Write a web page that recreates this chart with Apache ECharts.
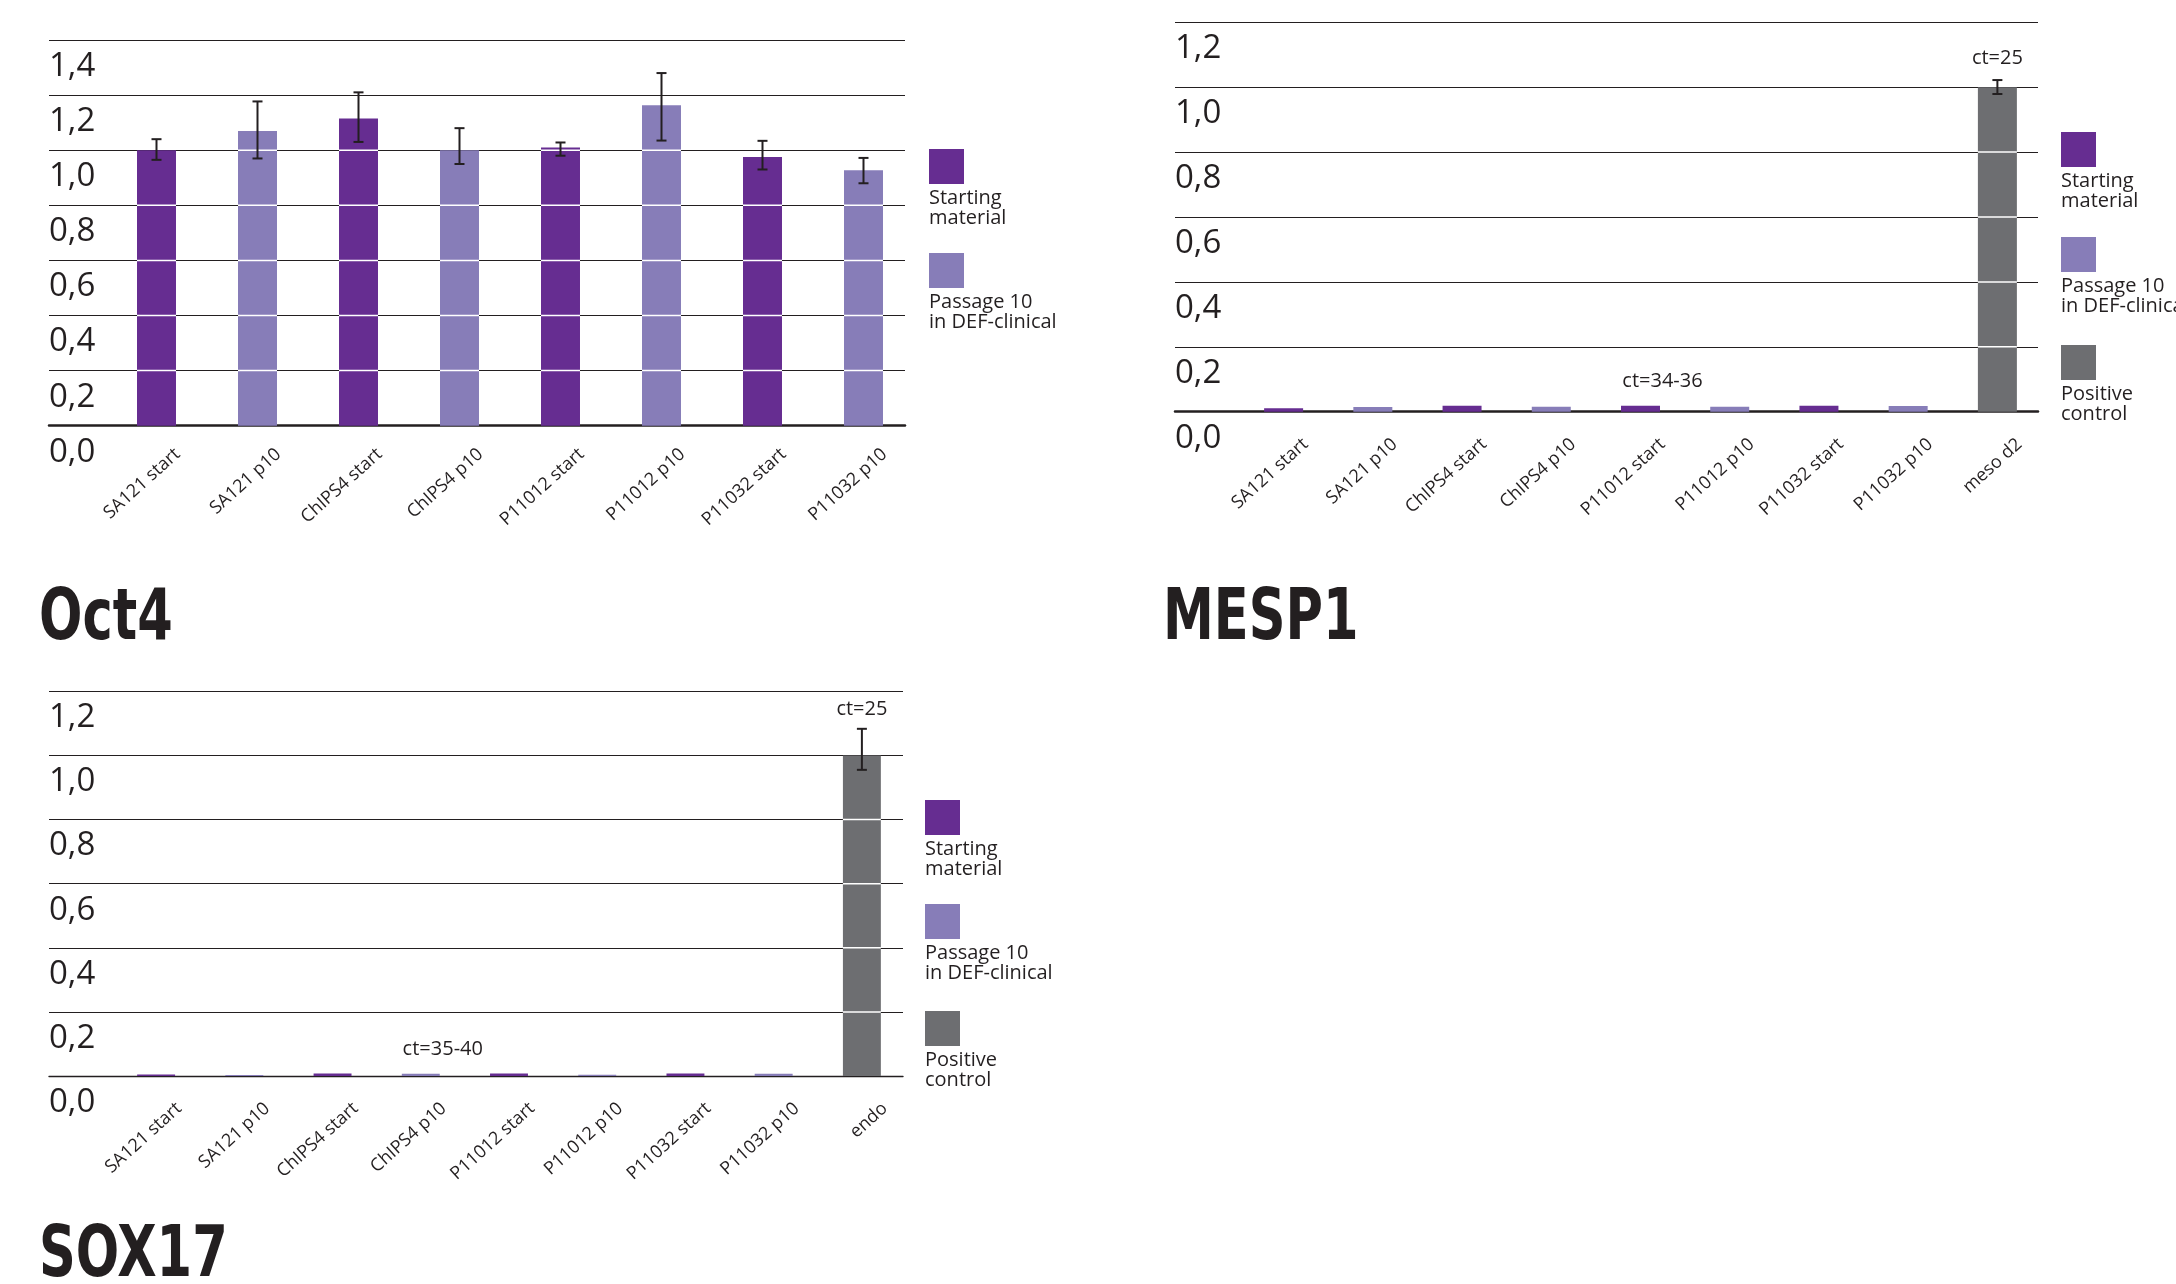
<!DOCTYPE html>
<html>
<head>
<meta charset="utf-8">
<title>Oct4 / MESP1 / SOX17</title>
<script src="https://cdn.jsdelivr.net/npm/echarts@6/dist/echarts.min.js"></script>
<style>
  html, body { margin: 0; padding: 0; background: #fff; }
  #chart { width: 2176px; height: 1284px; }
</style>
</head>
<body>
<div id="chart"></div>
<script>
// categories
const cellLines = ['SA121 start', 'SA121 p10', 'ChIPS4 start', 'ChIPS4 p10', 'P11012 start', 'P11012 p10', 'P11032 start', 'P11032 p10'];
const mesp1Categories = cellLines.concat(['meso d2']);
const sox17Categories = cellLines.concat(['endo']);

// group of each bar: 0 = starting material, 1 = passage 10, 2 = positive control
const oct4Groups = [0, 1, 0, 1, 0, 1, 0, 1];
const mesp1Groups = [0, 1, 0, 1, 0, 1, 0, 1, 2];
const sox17Groups = [0, 1, 0, 1, 0, 1, 0, 1, 2];

// relative expression
const oct4Values = [1.00, 1.07, 1.115, 1.00, 1.01, 1.163, 0.975, 0.927];
const oct4Low = [0.965, 0.97, 1.03, 0.95, 0.98, 1.035, 0.93, 0.88];
const oct4High = [1.04, 1.177, 1.21, 1.08, 1.028, 1.28, 1.034, 0.972];

const mesp1Values = [0.011, 0.0145, 0.0185, 0.015, 0.0185, 0.015, 0.0185, 0.0175, 1.0];
const mesp1Low = [null, null, null, null, null, null, null, null, 0.979];
const mesp1High = [null, null, null, null, null, null, null, null, 1.022];

const sox17Values = [0.005, 0.003, 0.008, 0.007, 0.008, 0.004, 0.008, 0.007, 1.0];
const sox17Low = [null, null, null, null, null, null, null, null, 0.955];
const sox17High = [null, null, null, null, null, null, null, null, 1.083];

// ct annotations: [category index, text]
const oct4Notes = [];
const mesp1Notes = [[4, 'ct=34-36'], [8, 'ct=25']];
const sox17Notes = [[3, 'ct=35-40'], [8, 'ct=25']];

// y axis ranges
const oct4Max = 1.4;
const mesp1Max = 1.2;
const sox17Max = 1.2;
const yStep = 0.2;

const legendNames = ['Starting\nmaterial', 'Passage 10\nin DEF-clinical', 'Positive\ncontrol'];
const panelTitles = ['Oct4', 'MESP1', 'SOX17'];

const groupColors = ['#662d91', '#877db8', '#6d6e71'];
const ink = '#231f20';
const bodyFont = "'Open Sans', 'Noto Sans', sans-serif";
const titleFont = "'Liberation Sans Narrow', 'DejaVu Sans Condensed', sans-serif";

// panel geometry (pixels)
const panels = [
  { cats: cellLines, groups: oct4Groups, values: oct4Values, low: oct4Low, high: oct4High, notes: oct4Notes, max: oct4Max,
    top: 40, base: 425.7, lineLeft: 49, lineRight: 905, barLeft: 106, barRight: 914, barRatio: 0.386,
    labelDx: 21, labelMargin: 26, baseWidth: 2.5, legendX: 929, legendY: [149, 253], titleX: 39, titleY: 585, legendCount: 2 },
  { cats: mesp1Categories, groups: mesp1Groups, values: mesp1Values, low: mesp1Low, high: mesp1High, notes: mesp1Notes, max: mesp1Max,
    top: 22.3, base: 411.7, lineLeft: 1175, lineRight: 2038, barLeft: 1239, barRight: 2042, barRatio: 0.437,
    labelDx: 22, labelMargin: 30, baseWidth: 2.5, legendX: 2061, legendY: [132, 237, 345], titleX: 1163, titleY: 585, legendCount: 3 },
  { cats: sox17Categories, groups: sox17Groups, values: sox17Values, low: sox17Low, high: sox17High, notes: sox17Notes, max: sox17Max,
    top: 691.3, base: 1076, lineLeft: 49, lineRight: 903, barLeft: 112, barRight: 906, barRatio: 0.43,
    labelDx: 23, labelMargin: 30, baseWidth: 1.4, legendX: 925, legendY: [800, 904, 1011], titleX: 39, titleY: 1222, legendCount: 3 }
];

const fmt = v => v.toFixed(1).replace('.', ',');

const grid = [], xAxis = [], yAxis = [], series = [], graphic = [];

panels.forEach((p, k) => {
  const h = p.base - p.top;
  const a = 3 * k, b = 3 * k + 1, c = 3 * k + 2;

  // grid with the horizontal lines and the y labels
  grid.push({ left: p.lineLeft, top: p.top, width: p.lineRight - p.lineLeft, height: h, outerBoundsMode: 'none' });
  // grid with the bars
  grid.push({ left: p.barLeft, top: p.top, width: p.barRight - p.barLeft, height: h, outerBoundsMode: 'none' });
  // grid carrying the rotated category labels
  grid.push({ left: p.barLeft + p.labelDx, top: p.top, width: p.barRight - p.barLeft, height: h, outerBoundsMode: 'none' });

  xAxis.push({
    gridIndex: a, type: 'value', min: 0, max: 1,
    axisLine: { show: true, lineStyle: { color: ink, width: p.baseWidth } },
    axisTick: { show: false }, axisLabel: { show: false }, splitLine: { show: false }
  });
  xAxis.push({ gridIndex: b, type: 'category', data: p.cats, show: false });
  xAxis.push({
    gridIndex: c, type: 'category', data: p.cats,
    axisLine: { show: false }, axisTick: { show: false }, splitLine: { show: false },
    axisLabel: {
      interval: 0, rotate: 42, margin: p.labelMargin, color: ink,
      fontFamily: bodyFont, fontSize: 18
    }
  });

  yAxis.push({
    gridIndex: a, type: 'value', min: 0, max: p.max, interval: yStep,
    axisLine: { show: false }, axisTick: { show: false },
    splitLine: { show: true, lineStyle: { color: ink, width: 1.2 } },
    axisLabel: {
      inside: true, margin: 0, verticalAlign: 'top', padding: [10, 0, 0, 0],
      showMinLabel: true, showMaxLabel: true,
      color: ink, fontFamily: bodyFont, fontSize: 33, formatter: fmt
    }
  });
  yAxis.push({ gridIndex: b, type: 'value', min: 0, max: p.max, show: false });
  yAxis.push({ gridIndex: c, type: 'value', min: 0, max: p.max, show: false });

  const noteOf = {};
  p.notes.forEach(n => { noteOf[n[0]] = n[1]; });

  series.push({
    type: 'bar', xAxisIndex: b, yAxisIndex: b, silent: true,
    barWidth: (p.barRatio * 100) + '%',
    data: p.values.map((v, i) => {
      const item = { value: v, itemStyle: { color: groupColors[p.groups[i]] } };
      if (noteOf[i]) {
        const pos = p.groups[i] === 2 ? { distance: k === 1 ? 19 : 36, offset: [0, 0] } : { distance: 14, offset: [22, 0] };
        item.label = {
          show: true, position: 'top', distance: pos.distance, offset: pos.offset,
          formatter: noteOf[i], color: ink, fontFamily: bodyFont, fontSize: 20
        };
      }
      return item;
    })
  });

  // white breaks across bars at the grid levels, plus error bars
  series.push({
    type: 'custom', xAxisIndex: b, yAxisIndex: b, silent: true, z: 3,
    encode: { x: 0, y: 1 },
    data: p.values.map((v, i) => [i, v, p.low[i] == null ? NaN : p.low[i], p.high[i] == null ? NaN : p.high[i]]),
    renderItem: (params, api) => {
      const i = api.value(0), v = api.value(1);
      const lo = api.value(2), hi = api.value(3);
      const x = api.coord([i, 0])[0];
      const bw = api.size([1, 0])[0] * p.barRatio;
      const children = [];
      for (let t = yStep; t < v - 1e-6; t += yStep) {
        const y = api.coord([i, t])[1];
        children.push({ type: 'line', shape: { x1: x - bw / 2, y1: y, x2: x + bw / 2, y2: y }, style: { stroke: '#fff', lineWidth: 1.5 } });
      }
      if (!isNaN(lo) && !isNaN(hi)) {
        const y1 = api.coord([i, hi])[1], y2 = api.coord([i, lo])[1];
        const st = { stroke: ink, lineWidth: 2 };
        children.push({ type: 'line', shape: { x1: x, y1: y1, x2: x, y2: y2 }, style: st });
        children.push({ type: 'line', shape: { x1: x - 5, y1: y1, x2: x + 5, y2: y1 }, style: st });
        children.push({ type: 'line', shape: { x1: x - 5, y1: y2, x2: x + 5, y2: y2 }, style: st });
      }
      return { type: 'group', children: children };
    }
  });

  // legend: square with the caption underneath
  for (let g = 0; g < p.legendCount; g++) {
    graphic.push({ type: 'rect', shape: { x: p.legendX, y: p.legendY[g], width: 35, height: 35 }, style: { fill: groupColors[g] } });
    graphic.push({
      type: 'text', x: p.legendX, y: p.legendY[g] + 39,
      style: { text: legendNames[g], fill: ink, font: '20px ' + bodyFont, lineHeight: 20, verticalAlign: 'top' }
    });
  }

  // panel title, narrowed to match the condensed face
  graphic.push({
    type: 'text', x: p.titleX, y: p.titleY, scaleX: 0.8,
    style: { text: panelTitles[k], fill: ink, font: 'bold 71px ' + titleFont, verticalAlign: 'top' }
  });
});

const chart = echarts.init(document.getElementById('chart'));
chart.setOption({
  backgroundColor: '#fff',
  animation: false,
  grid: grid,
  xAxis: xAxis,
  yAxis: yAxis,
  series: series,
  graphic: graphic
});
</script>
</body>
</html>
